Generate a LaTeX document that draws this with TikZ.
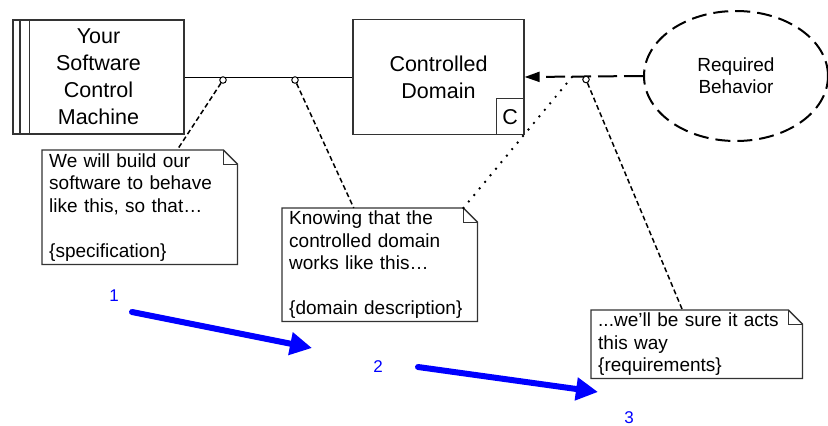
\documentclass[tikz,border=0pt]{standalone}
\usepackage{fontspec}
\setmainfont{Liberation Sans}
\usetikzlibrary{calc,shapes.geometric,arrows.meta}
\tikzset{
  frame/.style={draw=black!80,line width=1.2pt},
  box/.style={frame,minimum width=171pt,minimum height=115pt,align=center,font=\fontsize{21.5}{27}\selectfont},
  tag/.style={frame,line width=1pt,minimum width=28pt,minimum height=36pt,inner sep=0pt,font=\fontsize{21.5}{27}\selectfont},
  behavior/.style={ellipse,draw,line width=2pt,dash pattern=on 15pt off 7pt,minimum width=184pt,minimum height=130pt,align=center,font=\fontsize{19}{22}\selectfont},
  note/.style={anchor=north west,align=left,inner xsep=7pt,inner ysep=0pt,font=\fontsize{19}{22.5}\selectfont},
  pin/.style={circle,draw,fill=white,line width=1pt,inner sep=0pt,minimum size=6.5pt},
  link/.style={line width=1.5pt,dash pattern=on 5pt off 3pt},
  assume/.style={line width=2.7pt,line cap=round,dash pattern=on 0pt off 8.5pt},
  demand/.style={line width=2pt,dash pattern=on 19pt off 7pt,-{Triangle[length=15pt,width=10pt]}},
  progress/.style={blue,line width=6pt,line cap=round,-{Triangle[length=22pt,width=22pt]}},
  num/.style={text=blue,font=\fontsize{17}{20}\selectfont}
}
% note outline with a folded corner
\newcommand\notefold[1]{%
  \draw[frame,line width=1.3pt] (#1.north west) -- ($(#1.north east)+(-14,0)$) -- ($(#1.north east)+(0,14)$)
    -- (#1.south east) -- (#1.south west) -- cycle;
  \draw[frame,line width=1pt] ($(#1.north east)+(-14,0)$) |- ($(#1.north east)+(0,14)$);
}

\begin{document}
\begin{tikzpicture}[x=1pt,y=-1pt]
  \useasboundingbox (0,0) rectangle (828,426);

  \node[box,minimum height=114pt] (machine) at (98.5,77) {Your\\Software\\Control\\Machine};
  \draw[frame] ($(machine.north west)+(7.5,0)$) -- ($(machine.south west)+(7.5,0)$);
  \draw[frame] ($(machine.north west)+(17,0)$) -- ($(machine.south west)+(17,0)$);
  \node[box] (domain) at (438.5,77) {Controlled\\Domain};
  \node[tag,anchor=south east] (tag) at (domain.south east) {C};
  \node[behavior] (rb) at (736,76) {Required\\Behavior};

  \node[note,text width=181pt,minimum height=114pt] (note1) at (42,150)
    {We will build our\\software to behave\\like this, so that…\\ ~\\\{specification\}};
  \node[note,text width=181pt,minimum height=113pt] (note2) at (282,208)
    {Knowing that the\\controlled domain\\works like this…\\ ~\\\{domain description\}};
  \node[note,text width=197pt,minimum height=68pt] (note3) at (591,310)
    {...we’ll be sure it acts\\this way\\\{requirements\}};
  \notefold{note1}
  \notefold{note2}
  \notefold{note3}
  \coordinate (fold2) at ($(note2.north east)+(-14,0)$);
  \coordinate (tap) at (572,77);

  \draw[line width=1pt] (machine.east) -- (domain.west);
  \draw[demand] (rb.west) -- (domain.east);
  \node[pin] (spec) at (223,80) {};
  \node[pin] (dom) at (295,80) {};
  \node[pin] (req) at (586,79.5) {};

  \draw[link] (spec) -- (note1);
  \draw[link] (dom) -- (note2);
  \draw[link] (req) -- (note3);
  \draw[assume] (fold2) -- (tap);

  \node[num] (one) at (114,296) {1};
  \node[num] (two) at (378,367) {2};
  \node[num] (three) at (629,418) {3};
  \coordinate (a1s) at (132,312);
  \coordinate (a1e) at (312,348);
  \coordinate (a2s) at (418,367);
  \coordinate (a2e) at (598,392);
  \draw[progress] (a1s) -- (a1e);
  \draw[progress] (a2s) -- (a2e);
\end{tikzpicture}
\end{document}
